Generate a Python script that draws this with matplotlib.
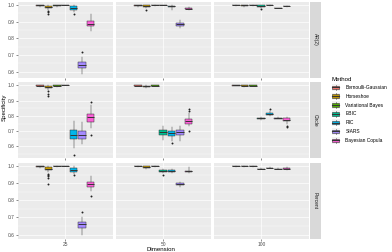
import matplotlib
matplotlib.use("Agg")
import matplotlib.pyplot as plt
import numpy as np
from matplotlib.legend_handler import HandlerBase
from matplotlib.patches import Rectangle, Patch
from matplotlib.lines import Line2D
from matplotlib.ticker import MultipleLocator

plt.rcParams['font.family'] = ['Liberation Sans', 'DejaVu Sans']

METHODS = ["Bernoulli-Gaussian", "Horseshoe", "Variational Bayes", "EBIC", "RIC", "SIARS", "Bayesian Copula"]
COLORS = ["#F8766D", "#C49A00", "#53B400", "#00C094", "#00B6EB", "#A58AFF", "#FB61D7"]
DATASETS = ["AR(2)", "Circle", "Percent"]
DIMENSIONS = [25, 50, 100]

# box summaries: (whislo, q1, med, q3, whishi), one per dimension
AR2 = [
    [(0.988, 0.995, 0.998, 1.0, 1.0), (0.990, 0.996, 0.999, 1.0, 1.0), (0.995, 0.998, 0.999, 1.0, 1.0)],
    [(0.972, 0.984, 0.990, 0.996, 1.0), (0.980, 0.990, 0.994, 0.998, 1.0), (0.990, 0.995, 0.997, 1.0, 1.0)],
    [(0.990, 0.996, 0.999, 1.0, 1.0), (0.992, 0.997, 0.999, 1.0, 1.0), (0.995, 0.998, 0.999, 1.0, 1.0)],
    [(1.0, 1.0, 1.0, 1.0, 1.0), (1.0, 1.0, 1.0, 1.0, 1.0), (0.980, 0.990, 0.995, 1.0, 1.0)],
    [(0.958, 0.972, 0.983, 0.993, 1.0), (0.972, 0.986, 0.991, 0.996, 1.0), (0.995, 0.998, 0.999, 1.0, 1.0)],
    [(0.585, 0.622, 0.638, 0.655, 0.690), (0.860, 0.874, 0.883, 0.893, 0.910), (0.981, 0.982, 0.982, 0.982, 0.983)],
    [(0.843, 0.872, 0.888, 0.902, 0.945), (0.972, 0.976, 0.978, 0.980, 0.985), (0.990, 0.991, 0.992, 0.993, 0.994)],
]
AR2_FLIERS = {(1, 0): [0.962, 0.955, 0.948], (1, 1): [0.972], (3, 2): [0.976],
              (4, 0): [0.947], (5, 0): [0.715]}

CIRCLE = [
    [(0.993, 0.997, 0.999, 1.0, 1.0), (0.995, 0.998, 0.999, 1.0, 1.0), (0.997, 0.999, 1.0, 1.0, 1.0)],
    [(0.970, 0.982, 0.990, 0.996, 1.0), (0.985, 0.992, 0.995, 0.998, 1.0), (0.993, 0.997, 0.998, 1.0, 1.0)],
    [(0.992, 0.997, 0.999, 1.0, 1.0), (0.994, 0.998, 0.999, 1.0, 1.0), (0.996, 0.998, 0.999, 1.0, 1.0)],
    [(1.0, 1.0, 1.0, 1.0, 1.0), (0.645, 0.678, 0.695, 0.711, 0.735), (0.775, 0.782, 0.785, 0.788, 0.795)],
    [(0.590, 0.649, 0.678, 0.711, 0.765), (0.635, 0.671, 0.689, 0.704, 0.728), (0.800, 0.807, 0.813, 0.820, 0.832)],
    [(0.615, 0.651, 0.678, 0.700, 0.759), (0.634, 0.678, 0.695, 0.711, 0.732), (0.777, 0.782, 0.785, 0.788, 0.793)],
    [(0.720, 0.762, 0.790, 0.815, 0.875), (0.732, 0.750, 0.765, 0.783, 0.820), (0.745, 0.765, 0.775, 0.785, 0.795)],
]
CIRCLE_FLIERS = {(1, 0): [0.962, 0.945, 0.928], (4, 0): [0.547], (4, 1): [0.623], (4, 2): [0.847],
                 (6, 0): [0.890, 0.675], (6, 1): [0.847, 0.833, 0.700], (6, 2): [0.735, 0.728]}

PERCENT = [
    [(0.990, 0.996, 0.998, 1.0, 1.0), (0.992, 0.997, 0.999, 1.0, 1.0), (0.995, 0.998, 0.999, 1.0, 1.0)],
    [(0.962, 0.975, 0.985, 0.994, 1.0), (0.980, 0.990, 0.994, 0.998, 1.0), (0.993, 0.997, 0.998, 1.0, 1.0)],
    [(0.993, 0.997, 0.999, 1.0, 1.0), (0.994, 0.998, 0.999, 1.0, 1.0), (0.995, 0.998, 0.999, 1.0, 1.0)],
    [(1.0, 1.0, 1.0, 1.0, 1.0), (0.956, 0.965, 0.970, 0.976, 0.982), (0.983, 0.984, 0.985, 0.985, 0.986)],
    [(0.952, 0.967, 0.979, 0.990, 1.0), (0.956, 0.966, 0.972, 0.977, 0.985), (0.988, 0.989, 0.990, 0.990, 0.991)],
    [(0.597, 0.640, 0.659, 0.676, 0.701), (0.879, 0.886, 0.892, 0.898, 0.908), (0.983, 0.984, 0.985, 0.985, 0.986)],
    [(0.852, 0.875, 0.892, 0.909, 0.942), (0.956, 0.964, 0.968, 0.972, 0.994), (0.975, 0.980, 0.984, 0.988, 0.992)],
]
PERCENT_FLIERS = {(1, 0): [0.955, 0.948, 0.940, 0.932, 0.894], (3, 1): [0.948], (4, 0): [0.946],
                  (5, 0): [0.730], (6, 0): [0.823]}

TABLES = [(AR2, AR2_FLIERS), (CIRCLE, CIRCLE_FLIERS), (PERCENT, PERCENT_FLIERS)]

W, H = 392, 252
COL_LEFT = [18, 116, 214]
COL_W = 94.5
ROW_TOP = [1.5, 82, 162.5]
ROW_H = 76
STRIP_X, STRIP_W = 310, 11

TICK_FS = 3.5
TITLE_FS = 4.4
SLOT = 0.75 / len(METHODS)


class BoxKey(HandlerBase):
    def create_artists(self, legend, orig_handle, xdescent, ydescent, width, height, fontsize, trans):
        x0, y0 = -xdescent, -ydescent
        fc = orig_handle.get_facecolor()
        return [
            Rectangle((x0, y0), width, height, facecolor="#F2F2F2", edgecolor="none", transform=trans),
            Line2D([x0 + width / 2] * 2, [y0 + 0.1 * height, y0 + 0.9 * height], color="#333333", lw=0.4, transform=trans),
            Rectangle((x0 + 0.1 * width, y0 + 0.25 * height), 0.8 * width, 0.5 * height,
                      facecolor=fc, edgecolor="#333333", lw=0.4, transform=trans),
            Line2D([x0 + 0.1 * width, x0 + 0.9 * width], [y0 + height / 2] * 2, color="#333333", lw=0.8, transform=trans),
        ]


def rect(left, top, w, h):
    return [left / W, 1 - (top + h) / H, w / W, h / H]


fig = plt.figure(figsize=(W / 100, H / 100), dpi=100)

for r, (table, fliers) in enumerate(TABLES):
    # free y scale per row, with ggplot-like 5% padding
    lows = [table[m][d][0] for m in range(7) for d in range(3)] + [v for f in fliers.values() for v in f]
    highs = [table[m][d][4] for m in range(7) for d in range(3)] + [v for f in fliers.values() for v in f]
    lo, hi = min(lows), max(highs)
    pad = 0.05 * (hi - lo)

    for c, dim in enumerate(DIMENSIONS):
        ax = fig.add_axes(rect(COL_LEFT[c], ROW_TOP[r], COL_W, ROW_H))
        ax.set_facecolor("#EBEBEB")
        for s in ax.spines.values():
            s.set_visible(False)
        stats = []
        for m in range(len(METHODS)):
            wl, q1, med, q3, wh = table[m][c]
            stats.append(dict(whislo=wl, q1=q1, med=med, q3=q3, whishi=wh, fliers=fliers.get((m, c), [])))
        pos = (np.arange(len(METHODS)) - 3) * SLOT
        bp = ax.bxp(stats, positions=pos, widths=0.9 * SLOT, patch_artist=True, showcaps=False,
                    boxprops=dict(edgecolor="#333333", linewidth=0.35),
                    whiskerprops=dict(color="#333333", linewidth=0.35),
                    medianprops=dict(color="#333333", linewidth=0.7),
                    flierprops=dict(marker="o", markerfacecolor="#222222", markeredgecolor="none", markersize=1.4),
                    manage_ticks=False, zorder=3)
        for patch, col in zip(bp["boxes"], COLORS):
            patch.set_facecolor(col)

        ax.set_xlim(-0.6, 0.6)
        ax.set_ylim(lo - pad, hi + pad)
        ax.set_xticks([0])
        ax.yaxis.set_major_locator(MultipleLocator(0.1))
        ax.yaxis.set_minor_locator(MultipleLocator(0.05))
        ax.grid(which="major", color="white", lw=0.5, zorder=0)
        ax.grid(which="minor", axis="y", color="white", lw=0.25, zorder=0)
        ax.set_axisbelow(True)
        ax.tick_params(which="major", length=1.2, width=0.4, color="#333333", pad=1,
                       labelsize=TICK_FS, labelcolor="#4D4D4D")
        ax.tick_params(which="minor", length=0)
        if r == 2:
            ax.set_xticklabels([str(dim)])
        else:
            ax.tick_params(axis="x", labelbottom=False)
        if c != 0:
            ax.tick_params(axis="y", labelleft=False, length=0)
        else:
            ax.yaxis.set_major_formatter(plt.FuncFormatter(lambda v, p: f"{v:.1f}"))

    sax = fig.add_axes(rect(STRIP_X, ROW_TOP[r], STRIP_W, ROW_H))
    sax.set_facecolor("#D9D9D9")
    sax.set_xticks([])
    sax.set_yticks([])
    for s in sax.spines.values():
        s.set_visible(False)
    sax.text(0.5, 0.5, DATASETS[r], rotation=-90, ha="center", va="center",
             fontsize=TICK_FS, color="#1A1A1A", transform=sax.transAxes)

fig.text(4 / W, 1 - 107 / H, "Specificity", rotation=90, ha="center", va="center", fontsize=TITLE_FS)
fig.text(161 / W, 1 - 247 / H, "Dimension", ha="center", va="top", fontsize=TITLE_FS)

handles = [Patch(facecolor=col) for col in COLORS]
fig.legend(handles, METHODS, handler_map={Patch: BoxKey()}, loc="upper left",
           bbox_to_anchor=(331.5 / W, 1 - 77 / H), frameon=False, fontsize=TICK_FS,
           title="Method", title_fontsize=TITLE_FS, handlelength=1.75, handleheight=1.85,
           labelspacing=0.37, handletextpad=1.1, borderpad=0, borderaxespad=0, alignment="left")

fig.savefig("out.png", dpi=100)
